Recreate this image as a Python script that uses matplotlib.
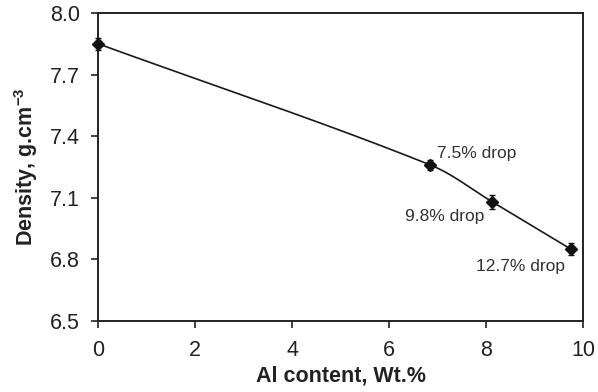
import numpy as np
import matplotlib
matplotlib.use("Agg")
import matplotlib.pyplot as plt

plt.rcParams["font.family"] = ["Liberation Sans", "DejaVu Sans"]

# Measured density vs. Al content
al_content = [0.0, 6.85, 8.13, 9.75]
density = [7.85, 7.26, 7.08, 6.85]
density_err = [0.03, 0.025, 0.035, 0.03]
drop_labels = ["", "7.5% drop", "9.8% drop", "12.7% drop"]
label_pos = [None, (6.98, 7.317), (6.33, 7.01), (7.8, 6.766)]

x_ticks = [0, 2, 4, 6, 8, 10]
y_ticks = [6.5, 6.8, 7.1, 7.4, 7.7, 8.0]


def smooth_curve(xs, ys, sx, sy, n=60):
    """Parametric Bezier smoothing through the points (in screen-like units sx, sy)."""
    P = np.column_stack([np.asarray(xs, float) * sx, np.asarray(ys, float) * sy])
    k = len(P)
    tang = np.zeros_like(P)
    for i in range(k):
        a = P[max(i - 1, 0)]
        b = P[min(i + 1, k - 1)]
        d = b - a
        tang[i] = d / np.linalg.norm(d)
    t = np.linspace(0, 1, n)[:, None]
    pts = []
    for i in range(k - 1):
        L = np.linalg.norm(P[i + 1] - P[i]) / 3
        p0, p3 = P[i], P[i + 1]
        p1 = p0 + L * tang[i]
        p2 = p3 - L * tang[i + 1]
        b = (1 - t) ** 3 * p0 + 3 * (1 - t) ** 2 * t * p1 + 3 * (1 - t) * t ** 2 * p2 + t ** 3 * p3
        pts.append(b)
    pts = np.vstack(pts)
    return pts[:, 0] / sx, pts[:, 1] / sy


fig = plt.figure(figsize=(5.98, 3.92), dpi=100)
ax = fig.add_axes([0.164, 0.181, 0.811, 0.786])

cx, cy = smooth_curve(al_content, density, 485 / 10, 308 / 1.5)
ax.plot(cx, cy, color="#1a1a1a", lw=1.2, zorder=2)
ax.errorbar(al_content, density, yerr=density_err, fmt="D", ms=6, color="#111111",
            ecolor="#111111", elinewidth=1.0, capsize=2.5, capthick=1.0, zorder=3,
            clip_on=False)

for lab, pos in zip(drop_labels, label_pos):
    if lab:
        ax.text(pos[0], pos[1], lab, fontsize=12.5, color="#333333", va="center", ha="left")

ax.set_xlim(0, 10)
ax.set_ylim(6.5, 8.0)
ax.set_xticks(x_ticks)
ax.set_yticks(y_ticks)
ax.set_xticklabels([str(v) for v in x_ticks])
ax.set_yticklabels([f"{v:.1f}" for v in y_ticks])
ax.tick_params(direction="out", length=5, width=1.2, labelsize=15.5, colors="#222222",
               top=False, right=False)
ax.tick_params(axis="x", pad=9)
ax.tick_params(axis="y", pad=8)
for s in ax.spines.values():
    s.set_linewidth(1.4)
    s.set_color("#222222")

ax.set_xlabel("Al content, Wt.%", fontsize=15.5, fontweight="bold", color="#222222", labelpad=3)
ax.set_ylabel("Density, g.cm$^{\\mathregular{-3}}$", fontsize=15.5, fontweight="bold",
              color="#222222", labelpad=7)

fig.savefig("out.png", dpi=100)
